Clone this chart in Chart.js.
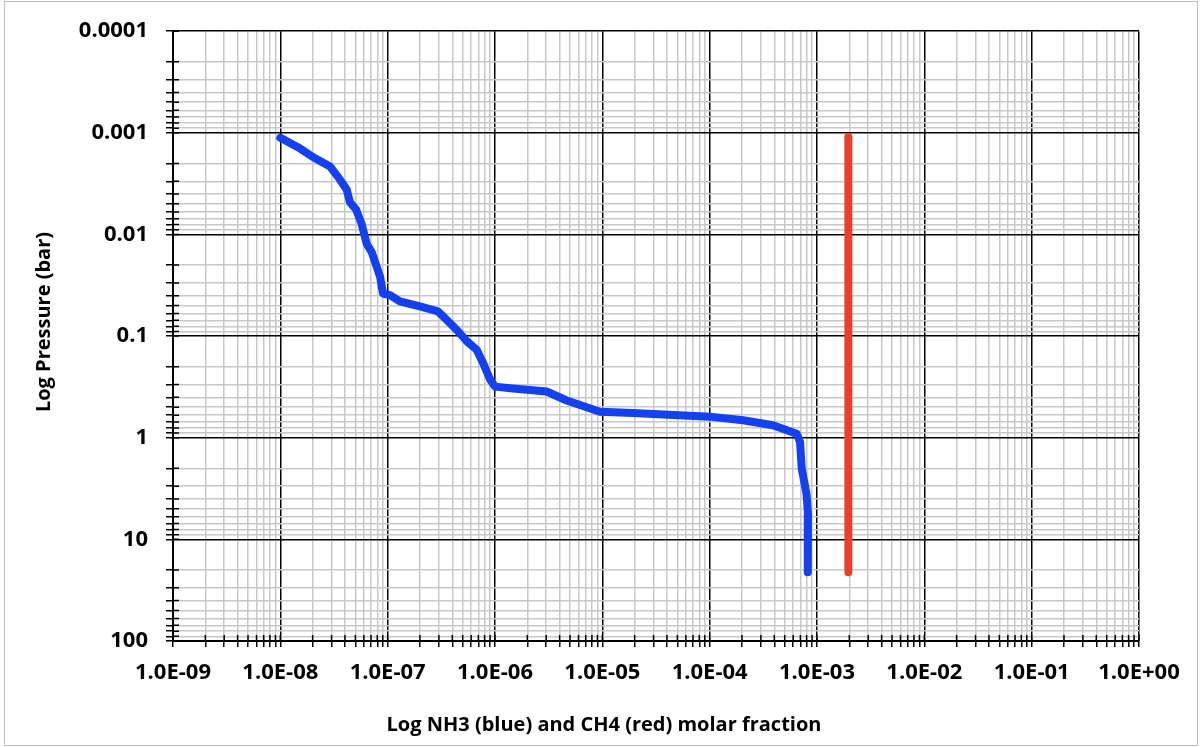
<!DOCTYPE html>
<html>
<head>
<meta charset="utf-8">
<script src="https://cdn.jsdelivr.net/npm/chart.js@4.4.1/dist/chart.umd.min.js"></script>
<style>
  html, body { margin: 0; padding: 0; background: #fff; }
  #wrap { position: relative; width: 1200px; height: 747px; }
  #frame { position: absolute; left: 4px; top: 1px; width: 1192px; height: 743px; border: 1px solid #bdbdbd; pointer-events: none; }
</style>
</head>
<body>
<div id="wrap">
  <canvas id="c" width="1200" height="747"></canvas>
  <div id="frame"></div>
</div>
<script>
// NH3 profile (blue)
const nh3X = [1.0e-8, 1.52e-8, 2.01e-8, 2.9e-8, 3.6e-8, 4.15e-8, 4.46e-8, 5.07e-8, 5.73e-8, 6.38e-8,
  7.1e-8, 7.9e-8, 8.5e-8, 9.05e-8, 1.05e-7, 1.3e-7, 2.0e-7, 2.94e-7, 3.55e-7, 4.4e-7,
  5.45e-7, 6.75e-7, 7.73e-7, 9.0e-7, 1.0e-6, 1.47e-6, 3.03e-6, 4.66e-6, 7.15e-6, 9.5e-6,
  1.93e-5, 1.0e-4, 2.05e-4, 3.89e-4, 6.47e-4, 6.95e-4, 7.2e-4, 8.0e-4, 8.24e-4, 8.2e-4];
const nh3P = [0.00112, 0.00142, 0.00173, 0.00214, 0.00289, 0.00361, 0.00484, 0.00566, 0.00792, 0.0124,
  0.0149, 0.0208, 0.0261, 0.0381, 0.0396, 0.0456, 0.0511, 0.057, 0.0693, 0.0869,
  0.112, 0.136, 0.183, 0.267, 0.314, 0.328, 0.351, 0.43, 0.502, 0.556,
  0.571, 0.62, 0.673, 0.754, 0.914, 1.10, 2.0, 3.61, 5.66, 21.1];

// CH4 profile (red)
const ch4X = [1.96e-3, 1.96e-3];
const ch4P = [0.00110, 21.1];

// axis decades and their labels
const xDecades = [-9, -8, -7, -6, -5, -4, -3, -2, -1, 0];
const xTickLabels = ['1.0E-09', '1.0E-08', '1.0E-07', '1.0E-06', '1.0E-05', '1.0E-04', '1.0E-03', '1.0E-02', '1.0E-01', '1.0E+00'];
const yDecades = [-4, -3, -2, -1, 0, 1, 2];
const yTickLabels = ['0.0001', '0.001', '0.01', '0.1', '1', '10', '100'];

const xTitle = 'Log NH3 (blue) and CH4 (red) molar fraction';
const yTitle = 'Log Pressure (bar)';

const xy = (xs, ys) => xs.map((x, i) => ({ x, y: ys[i] }));

function decadeTicks(decades) {
  const out = [];
  decades.forEach((e, i) => {
    const last = i === decades.length - 1;
    for (let m = 1; m <= (last ? 1 : 9); m++) {
      out.push({ value: Number((m * Math.pow(10, e)).toPrecision(12)), major: m === 1, decade: i });
    }
  });
  return out;
}

const FAMILY = '"Open Sans", "Liberation Sans", sans-serif';
const TICK_FONT = { family: FAMILY, size: 22, weight: 'bold' };

// small inside tick marks + the two axis titles (placed like the original, not centred on the axes)
const extras = {
  id: 'extras',
  beforeDatasetsDraw(chart) {
    const { ctx, chartArea: a, scales: { x, y } } = chart;
    ctx.save();
    ctx.strokeStyle = '#000'; ctx.lineWidth = 1.5;
    ctx.beginPath();
    for (const t of y.ticks) { const p = y.getPixelForValue(t.value); ctx.moveTo(a.left, p); ctx.lineTo(a.left + 6, p); }
    for (const t of x.ticks) { const p = x.getPixelForValue(t.value); ctx.moveTo(p, a.bottom); ctx.lineTo(p, a.bottom - 6); }
    ctx.stroke();
    ctx.restore();
  },
  afterDraw(chart) {
    const { ctx } = chart;
    ctx.save();
    ctx.fillStyle = '#000';
    ctx.font = `bold 20px ${FAMILY}`;
    ctx.textAlign = 'center'; ctx.textBaseline = 'middle';
    ctx.fillText(xTitle, 604, 725);
    ctx.translate(44, 322);
    ctx.rotate(-Math.PI / 2);
    ctx.fillText(yTitle, 0, 0);
    ctx.restore();
  }
};

const gridColor = c => (c.tick && c.tick.major) ? '#000' : '#c8c8c8';

new Chart(document.getElementById('c'), {
  type: 'scatter',
  data: {
    datasets: [
      { label: 'NH3', data: xy(nh3X, nh3P), showLine: true, borderColor: '#1440f0', borderWidth: 8,
        pointRadius: 0, borderCapStyle: 'round', borderJoinStyle: 'round', tension: 0 },
      { label: 'CH4', data: xy(ch4X, ch4P), showLine: true, borderColor: '#e8402a', borderWidth: 8,
        pointRadius: 0, borderCapStyle: 'round', borderJoinStyle: 'round', tension: 0 },
    ]
  },
  options: {
    responsive: false, animation: false, devicePixelRatio: 1,
    layout: { padding: { top: 25, right: 61, bottom: 0, left: 0 } },
    plugins: { legend: { display: false }, tooltip: { enabled: false } },
    scales: {
      x: {
        type: 'logarithmic', min: 1e-9, max: 1,
        afterBuildTicks: s => { s.ticks = decadeTicks(xDecades); },
        afterFit: s => { s.height = 106; },
        ticks: { autoSkip: false, maxRotation: 0, padding: 13, color: '#000', font: TICK_FONT,
          callback: (v, i, t) => t[i].major ? xTickLabels[t[i].decade] : '' },
        grid: { color: gridColor, lineWidth: 1.5, tickLength: 6, tickColor: '#000', tickWidth: 1.5 },
        border: { color: '#000', width: 2 }
      },
      y: {
        type: 'logarithmic', min: 0.0001, max: 100, reverse: true,
        afterBuildTicks: s => { s.ticks = decadeTicks(yDecades); },
        afterFit: s => { s.width = 173; },
        ticks: { autoSkip: false, padding: 18, color: '#000', font: TICK_FONT,
          callback: (v, i, t) => t[i].major ? yTickLabels[t[i].decade] : '' },
        grid: { color: gridColor, lineWidth: 1.5, tickLength: 7, tickColor: '#000', tickWidth: 1.5 },
        border: { color: '#000', width: 2 }
      }
    }
  },
  plugins: [extras]
});
</script>
</body>
</html>
